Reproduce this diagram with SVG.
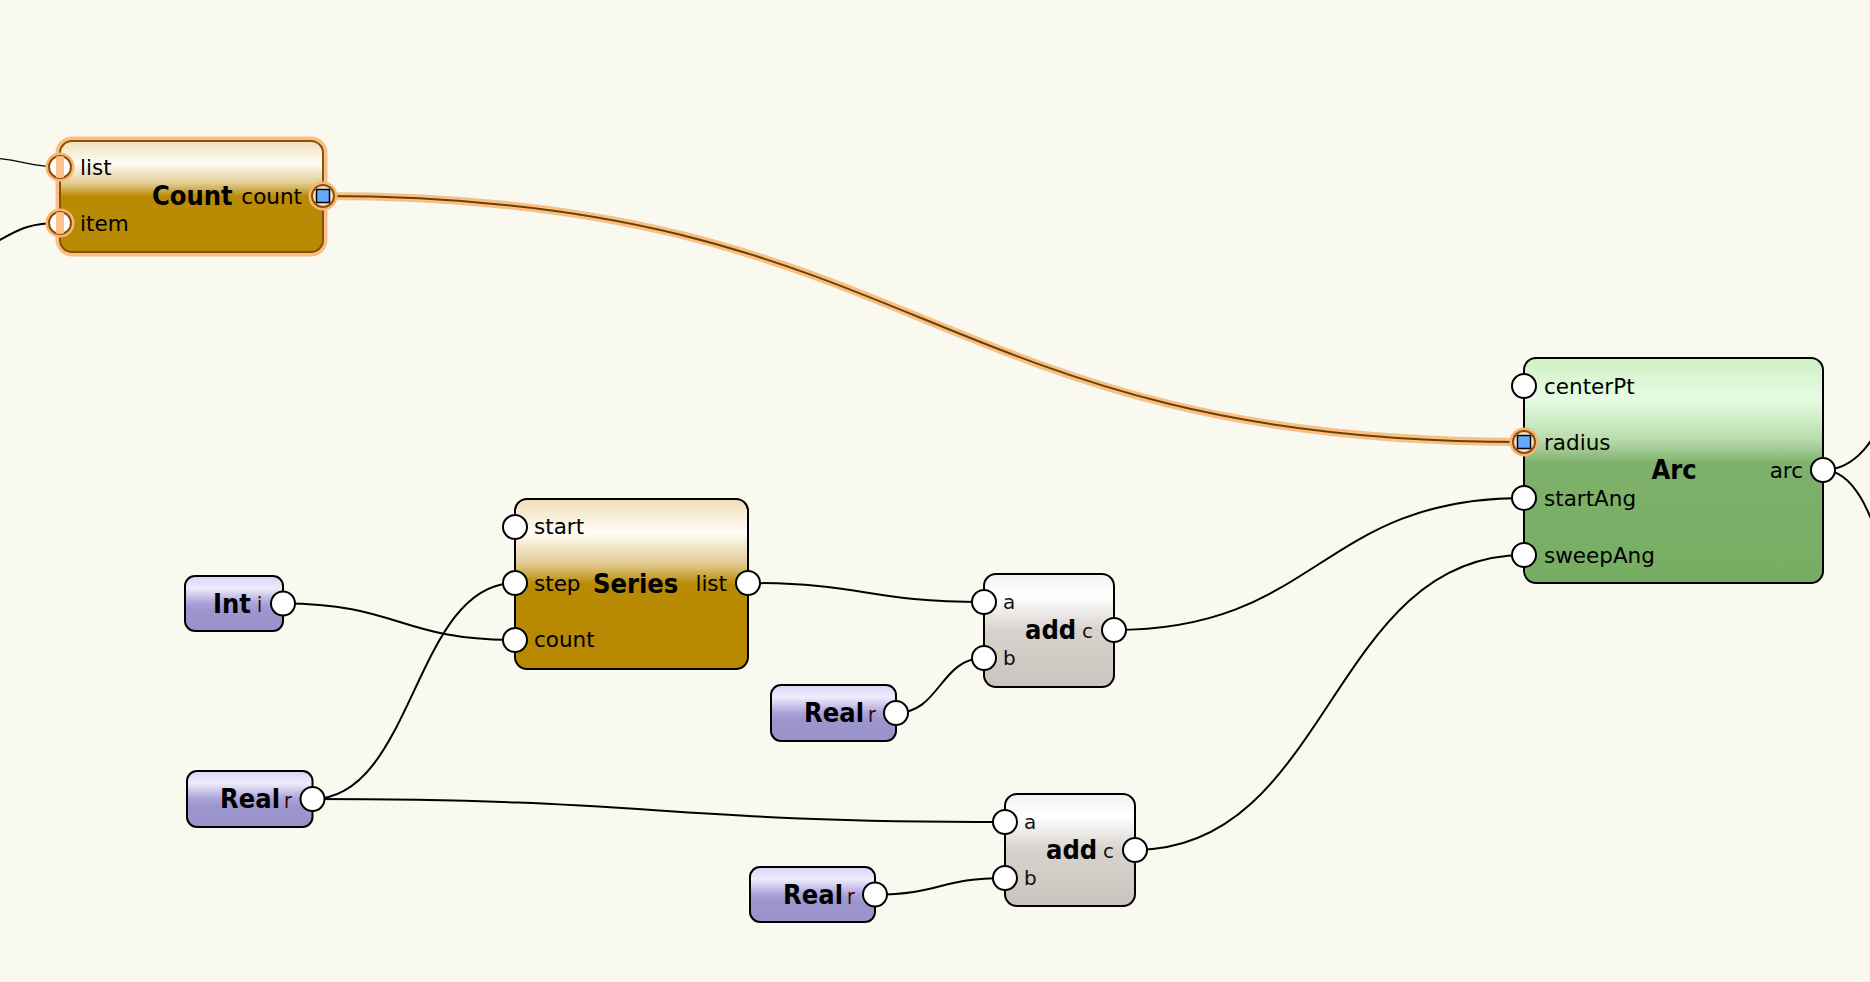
<svg xmlns="http://www.w3.org/2000/svg" width="1870" height="982" viewBox="0 0 1870 982">
<defs>
<linearGradient id="gGold" x1="0" y1="0" x2="0" y2="1">
<stop offset="0" stop-color="#efe0b8"/><stop offset="0.2" stop-color="#fffdf6"/><stop offset="0.38" stop-color="#e2cc92"/><stop offset="0.5" stop-color="#b98a04"/><stop offset="1" stop-color="#b78800"/>
</linearGradient>
<linearGradient id="gPurple" x1="0" y1="0" x2="0" y2="1">
<stop offset="0" stop-color="#d9d3f6"/><stop offset="0.22" stop-color="#efecfc"/><stop offset="0.5" stop-color="#aaa2d8"/><stop offset="0.62" stop-color="#9d95cd"/><stop offset="1" stop-color="#9a92ca"/>
</linearGradient>
<linearGradient id="gGray" x1="0" y1="0" x2="0" y2="1">
<stop offset="0" stop-color="#f4f2f0"/><stop offset="0.2" stop-color="#ffffff"/><stop offset="0.5" stop-color="#d8d2cd"/><stop offset="1" stop-color="#cbc4be"/>
</linearGradient>
<linearGradient id="gGreen" x1="0" y1="0" x2="0" y2="1">
<stop offset="0" stop-color="#cff0c6"/><stop offset="0.18" stop-color="#e6fce2"/><stop offset="0.36" stop-color="#b9dcad"/><stop offset="0.47" stop-color="#7eb16b"/><stop offset="1" stop-color="#77ad63"/>
</linearGradient>
<clipPath id="cpList"><circle cx="60" cy="167" r="11"/></clipPath>
<clipPath id="cpItem"><circle cx="60" cy="223" r="11"/></clipPath>
<style>
.wire{fill:none;stroke:#000;stroke-width:2}
.halo{fill:none;stroke:#f7b673;stroke-width:8;stroke-opacity:0.85}
.hcore{fill:none;stroke:#6e4000;stroke-width:2}
.box{stroke:#000;stroke-width:2}
.port{fill:#fff;stroke:#000;stroke-width:2}
.hport{fill:#fde3c6;stroke:#8c4f0a;stroke-width:2}
.sq{fill:#66aaff;stroke:#000;stroke-width:1.5}
.lbl{font-family:'DejaVu Sans','Liberation Sans',sans-serif;font-size:21.5px;fill:#000}
.sl{font-family:'DejaVu Sans','Liberation Sans',sans-serif;font-size:20px;fill:#111}
.ttl{font-family:'DejaVu Sans Condensed','Liberation Sans',sans-serif;font-weight:bold;font-size:27px;fill:#000}
.val{font-family:'DejaVu Sans Condensed','DejaVu Sans',sans-serif;font-size:21px;fill:#3a0000}
</style>
</defs>
<rect x="0" y="0" width="1870" height="982" fill="#f9f9f0"/>

<g id="connectors">
<path class="wire" style="stroke-width:1.3" d="M -10 158 C 20 159, 30 167, 60 167"/>
<path class="wire" d="M -4 242 C 18 230, 28 223, 60 223"/>
<path class="halo" d="M 323 196 C 923 196, 924 442, 1524 442"/>
<path class="hcore" d="M 323 196 C 923 196, 924 442, 1524 442"/>
<path class="wire" d="M 283 603.5 C 399 603.5, 399 640, 515 640"/>
<path class="wire" d="M 312.5 799 C 414 799, 414 583, 515 583"/>
<path class="wire" d="M 312.5 799 C 659 799, 659 822, 1005 822"/>
<path class="wire" d="M 748 583 C 866 583, 866 602, 984 602"/>
<path class="wire" d="M 896 713 C 940 713, 940 658, 984 658"/>
<path class="wire" d="M 1114 630 C 1319 630, 1319 498, 1524 498"/>
<path class="wire" d="M 875 894.5 C 940 894.5, 940 878, 1005 878"/>
<path class="wire" d="M 1135 850 C 1330 850, 1330 555, 1524 555"/>
<path class="wire" d="M 1823 470 C 1892 470, 1892 340, 1960 340"/>
<path class="wire" d="M 1823 470 C 1887 470, 1887 650, 1950 650"/>
</g>

<g id="node-count">
<rect x="60" y="141" width="263" height="111" rx="12" fill="none" stroke="#f7b673" stroke-width="9" stroke-opacity="0.85"/>
<rect x="60" y="141" width="263" height="111" rx="12" fill="url(#gGold)" stroke="#8c4f0a" stroke-width="2"/>
<circle cx="60" cy="167" r="11" fill="#fff" stroke="#f7b673" stroke-width="7"/>
<circle cx="60" cy="167" r="11" fill="#fff" stroke="#8c4f0a" stroke-width="2"/>
<rect x="56" y="150" width="8" height="34" fill="#fbc28c" clip-path="url(#cpList)"/>
<circle cx="60" cy="223" r="11" fill="#fff" stroke="#f7b673" stroke-width="7"/>
<circle cx="60" cy="223" r="11" fill="#fff" stroke="#8c4f0a" stroke-width="2"/>
<rect x="56" y="206" width="8" height="34" fill="#fbc28c" clip-path="url(#cpItem)"/>
<circle cx="323" cy="196" r="11" fill="none" stroke="#f7b673" stroke-width="7"/>
<circle class="hport" cx="323" cy="196" r="11"/>
<rect class="sq" x="316.5" y="189.5" width="13" height="13"/>
<text class="lbl" x="80" y="175">list</text>
<text class="lbl" x="80" y="231">item</text>
<text class="ttl" x="152" y="205">Count</text>
<text class="lbl" x="302" y="204" text-anchor="end">count</text>
</g>

<g id="node-arc">
<rect class="box" x="1524" y="358" width="299" height="225" rx="12" fill="url(#gGreen)"/>
<circle class="port" cx="1524" cy="386" r="12"/>
<circle cx="1524" cy="442" r="11" fill="none" stroke="#f7b673" stroke-width="7"/>
<circle class="hport" cx="1524" cy="442" r="11"/>
<rect class="sq" x="1517.5" y="435.5" width="13" height="13"/>
<circle class="port" cx="1524" cy="498" r="12"/>
<circle class="port" cx="1524" cy="555" r="12"/>
<circle class="port" cx="1823" cy="470" r="12"/>
<text class="lbl" x="1544" y="393.5">centerPt</text>
<text class="lbl" x="1544" y="449.5">radius</text>
<text class="lbl" x="1544" y="505.5">startAng</text>
<text class="lbl" x="1544" y="562.5">sweepAng</text>
<text class="ttl" x="1674" y="479" text-anchor="middle">Arc</text>
<text class="lbl" x="1803" y="478" text-anchor="end">arc</text>
</g>

<g id="node-series">
<rect class="box" x="515" y="499" width="233" height="170" rx="12" fill="url(#gGold)"/>
<circle class="port" cx="515" cy="527" r="12"/>
<circle class="port" cx="515" cy="583" r="12"/>
<circle class="port" cx="515" cy="640" r="12"/>
<circle class="port" cx="748" cy="583" r="12"/>
<text class="lbl" x="534" y="534">start</text>
<text class="lbl" x="534" y="591">step</text>
<text class="lbl" x="534" y="647">count</text>
<text class="ttl" x="593" y="593">Series</text>
<text class="lbl" x="727" y="591" text-anchor="end">list</text>
</g>

<g id="node-int">
<rect class="box" x="185" y="576" width="98" height="55" rx="10" fill="url(#gPurple)"/>
<circle class="port" cx="283" cy="603.5" r="12"/>
<text class="ttl" x="251" y="613" text-anchor="end">Int</text>
<text class="val" x="257" y="612">i</text>
</g>

<g id="node-real1">
<rect class="box" x="187" y="771" width="125.5" height="56" rx="10" fill="url(#gPurple)"/>
<circle class="port" cx="312.5" cy="799" r="12"/>
<text class="ttl" x="280" y="808" text-anchor="end">Real</text>
<text class="val" x="284" y="808">r</text>
</g>

<g id="node-real2">
<rect class="box" x="771" y="685" width="125" height="56" rx="10" fill="url(#gPurple)"/>
<circle class="port" cx="896" cy="713" r="12"/>
<text class="ttl" x="864" y="722" text-anchor="end">Real</text>
<text class="val" x="868" y="722">r</text>
</g>

<g id="node-real3">
<rect class="box" x="750" y="867" width="125" height="55" rx="10" fill="url(#gPurple)"/>
<circle class="port" cx="875" cy="894.5" r="12"/>
<text class="ttl" x="843" y="903.5" text-anchor="end">Real</text>
<text class="val" x="847" y="903.5">r</text>
</g>

<g id="node-add1">
<rect class="box" x="984" y="574" width="130" height="113" rx="12" fill="url(#gGray)"/>
<circle class="port" cx="984" cy="602" r="12"/>
<circle class="port" cx="984" cy="658" r="12"/>
<circle class="port" cx="1114" cy="630" r="12"/>
<text class="sl" x="1003" y="609">a</text>
<text class="sl" x="1003" y="665">b</text>
<text class="ttl" x="1025" y="639">add</text>
<text class="sl" x="1082" y="638">c</text>
</g>

<g id="node-add2">
<rect class="box" x="1005" y="794" width="130" height="112" rx="12" fill="url(#gGray)"/>
<circle class="port" cx="1005" cy="822" r="12"/>
<circle class="port" cx="1005" cy="878" r="12"/>
<circle class="port" cx="1135" cy="850" r="12"/>
<text class="sl" x="1024" y="829">a</text>
<text class="sl" x="1024" y="885">b</text>
<text class="ttl" x="1046" y="859">add</text>
<text class="sl" x="1103" y="858">c</text>
</g>
</svg>
